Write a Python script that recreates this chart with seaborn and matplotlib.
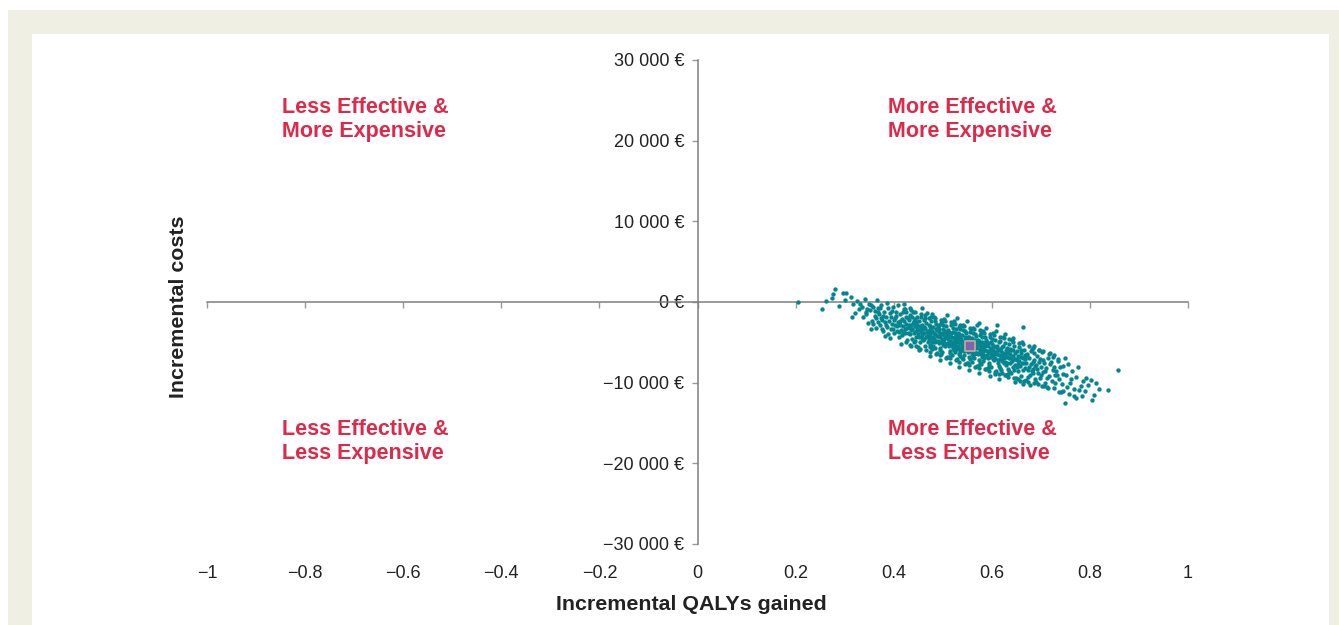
import matplotlib
matplotlib.use("Agg")
import matplotlib.pyplot as plt
from matplotlib.patches import Rectangle
import seaborn as sns
import pandas as pd

# ---------------- data ----------------
# probabilistic sensitivity analysis draws: (incremental QALYs, incremental cost in EUR)
psa_draws = [
    (0.204, -50), (0.253, -900), (0.262, 150), (0.281, 1650), (0.276, 1000), (0.296, 1150),
    (0.289, -450), (0.300, 200), (0.302, 1100), (0.275, 500),
    (0.312, 600), (0.318, -300), (0.322, -1400), (0.326, 100), (0.329, -900), (0.315, -1800),
    (0.335, -600), (0.338, -1900), (0.341, 400), (0.344, -1200), (0.347, -2600), (0.349, -300), (0.343, -1500),
    (0.352, -1000), (0.355, -2300), (0.358, -600), (0.361, -1700), (0.364, -3200), (0.366, 200),
    (0.368, -1300), (0.357, -2700), (0.363, -2000), (0.369, -800),
    (0.371, -1500), (0.373, -2900), (0.375, -400), (0.377, -2200), (0.379, -3600), (0.381, -1200),
    (0.383, -2500), (0.385, -1800), (0.387, -3100), (0.389, -700), (0.374, -2000), (0.382, -4200), (0.386, -100),
    (0.391, -2300), (0.393, -1400), (0.395, -3300), (0.397, -2700), (0.399, -600), (0.401, -3900),
    (0.403, -2000), (0.405, -1700), (0.407, -3000), (0.409, -2500), (0.392, -4500), (0.396, -1100),
    (0.402, -2900), (0.406, -3600), (0.408, -400), (0.400, -2200),
    (0.411, -2600), (0.412, -1500), (0.414, -3500), (0.416, -2100), (0.417, -4100), (0.419, -3000),
    (0.421, -900), (0.422, -2400), (0.424, -3800), (0.425, -1800), (0.427, -3200), (0.428, -4700),
    (0.413, -2900), (0.418, -1200), (0.423, -3400), (0.426, -2700), (0.429, -2000), (0.415, -5200),
    (0.420, -300), (0.410, -3700),
    (0.431, -3100), (0.432, -2200), (0.433, -4000), (0.434, -1600), (0.435, -3500), (0.436, -2800),
    (0.437, -4600), (0.438, -3300), (0.439, -1200), (0.440, -2600), (0.441, -3900), (0.442, -5000),
    (0.443, -2100), (0.444, -3000), (0.445, -4300), (0.446, -3600), (0.447, -1900), (0.448, -2900),
    (0.449, -5600), (0.430, -3800), (0.434, -700), (0.437, -3400), (0.441, -2400), (0.444, -4800),
    (0.447, -3200), (0.449, -4000),
    (0.450, -3500), (0.451, -2400), (0.452, -4300), (0.453, -3000), (0.454, -5000), (0.455, -3700),
    (0.456, -1800), (0.457, -4100), (0.458, -2800), (0.459, -3400), (0.460, -4700), (0.461, -2200),
    (0.462, -3900), (0.463, -5500), (0.464, -3200), (0.465, -4400), (0.466, -2600), (0.467, -3600),
    (0.468, -1400), (0.469, -4900), (0.452, -6000), (0.455, -3300), (0.458, -4500), (0.461, -3100),
    (0.464, -2000), (0.467, -4200), (0.469, -3700), (0.457, -800),
    (0.470, -3900), (0.471, -2800), (0.472, -4700), (0.473, -3300), (0.474, -5300), (0.475, -4100),
    (0.476, -2400), (0.477, -4500), (0.478, -3600), (0.479, -5800), (0.480, -3100), (0.481, -4300),
    (0.482, -1900), (0.483, -3800), (0.484, -5000), (0.485, -4000), (0.486, -2700), (0.487, -4800),
    (0.488, -3500), (0.489, -6300), (0.471, -4400), (0.474, -3000), (0.477, -3700), (0.480, -5400),
    (0.483, -4600), (0.486, -3300), (0.488, -4200), (0.475, -6700), (0.479, -1500), (0.484, -2300),
    (0.473, -5600),
    (0.490, -4200), (0.491, -3100), (0.492, -5100), (0.493, -3700), (0.494, -5700), (0.495, -4400),
    (0.496, -2600), (0.497, -4900), (0.498, -3900), (0.499, -6200), (0.500, -3400), (0.501, -4700),
    (0.502, -2100), (0.503, -4100), (0.504, -5400), (0.505, -4500), (0.506, -3000), (0.507, -5200),
    (0.508, -3800), (0.509, -6800), (0.491, -4800), (0.493, -3400), (0.495, -5900), (0.497, -4000),
    (0.499, -4600), (0.501, -2900), (0.503, -5000), (0.505, -3600), (0.507, -4300), (0.509, -1600),
    (0.494, -7200), (0.500, -5300), (0.506, -4000), (0.498, -2300),
    (0.510, -4600), (0.511, -3500), (0.512, -5400), (0.513, -4000), (0.514, -6100), (0.515, -4800),
    (0.516, -2900), (0.517, -5300), (0.518, -4300), (0.519, -6600), (0.520, -3700), (0.521, -5000),
    (0.522, -2400), (0.523, -4500), (0.524, -5700), (0.525, -4900), (0.526, -3300), (0.527, -5500),
    (0.528, -4100), (0.529, -7100), (0.511, -5100), (0.513, -3700), (0.515, -6300), (0.517, -4400),
    (0.519, -5000), (0.521, -3200), (0.523, -5300), (0.525, -3900), (0.527, -4700), (0.529, -2000),
    (0.514, -7600), (0.520, -5700), (0.526, -4300), (0.518, -2700), (0.524, -6200), (0.512, -4200),
    (0.530, -5000), (0.531, -3900), (0.532, -5800), (0.533, -4400), (0.534, -6400), (0.535, -5100),
    (0.536, -3300), (0.537, -5700), (0.538, -4600), (0.539, -7000), (0.540, -4100), (0.541, -5400),
    (0.542, -2800), (0.543, -4900), (0.544, -6100), (0.545, -5200), (0.546, -3600), (0.547, -5900),
    (0.548, -4500), (0.549, -7500), (0.531, -5500), (0.533, -4000), (0.535, -6700), (0.537, -4800),
    (0.539, -5300), (0.541, -3500), (0.543, -5700), (0.545, -4300), (0.547, -5100), (0.549, -2400),
    (0.534, -8000), (0.540, -6000), (0.546, -4700), (0.538, -3000), (0.544, -6600), (0.532, -4600),
    (0.550, -5400), (0.551, -4300), (0.552, -6200), (0.553, -4800), (0.554, -6800), (0.555, -5500),
    (0.556, -3700), (0.557, -6100), (0.558, -5000), (0.559, -7400), (0.560, -4500), (0.561, -5800),
    (0.562, -3200), (0.563, -5300), (0.564, -6500), (0.565, -5600), (0.566, -4000), (0.567, -6300),
    (0.568, -4900), (0.569, -7900), (0.551, -5900), (0.553, -4400), (0.555, -7100), (0.557, -5200),
    (0.559, -5700), (0.561, -3900), (0.563, -6100), (0.565, -4700), (0.567, -5500), (0.569, -2800),
    (0.554, -8400), (0.560, -6400), (0.566, -5100), (0.558, -3400), (0.564, -7000), (0.552, -5000),
    (0.570, -5700), (0.571, -4700), (0.572, -6500), (0.573, -5200), (0.574, -7200), (0.575, -5900),
    (0.576, -4100), (0.577, -6400), (0.578, -5400), (0.579, -7700), (0.580, -4900), (0.581, -6200),
    (0.582, -3600), (0.583, -5600), (0.584, -6900), (0.585, -6000), (0.586, -4400), (0.587, -6700),
    (0.588, -5300), (0.589, -8300), (0.571, -6300), (0.573, -4800), (0.575, -7500), (0.577, -5600),
    (0.579, -6100), (0.581, -4300), (0.583, -6500), (0.585, -5100), (0.587, -5900), (0.589, -3200),
    (0.574, -8800), (0.580, -6800), (0.586, -5500), (0.578, -3800), (0.573, -2600),
    (0.590, -6100), (0.591, -5000), (0.592, -6900), (0.593, -5500), (0.594, -7500), (0.595, -6200),
    (0.596, -4400), (0.597, -6800), (0.598, -5700), (0.599, -8100), (0.600, -5200), (0.601, -6500),
    (0.602, -3900), (0.603, -6000), (0.604, -7200), (0.605, -6300), (0.606, -4700), (0.607, -7000),
    (0.608, -5600), (0.609, -8600), (0.591, -6600), (0.593, -5100), (0.595, -7800), (0.597, -5900),
    (0.599, -6400), (0.601, -4600), (0.603, -6800), (0.605, -5400), (0.607, -6200), (0.609, -3600),
    (0.596, -9200), (0.602, -7100),
    (0.610, -6400), (0.611, -5400), (0.612, -7200), (0.613, -5900), (0.614, -7900), (0.615, -6600),
    (0.616, -4800), (0.617, -7100), (0.618, -6100), (0.619, -8400), (0.620, -5600), (0.621, -6900),
    (0.622, -4300), (0.623, -6300), (0.624, -7600), (0.625, -6700), (0.626, -5100), (0.627, -7400),
    (0.628, -6000), (0.629, -9000), (0.612, -6000), (0.614, -5000), (0.616, -8200), (0.618, -6600),
    (0.620, -7300), (0.622, -5500), (0.624, -6900), (0.626, -4000), (0.628, -7800), (0.615, -9500),
    (0.610, -2900),
    (0.630, -6800), (0.631, -5700), (0.632, -7600), (0.633, -6300), (0.634, -8300), (0.635, -7000),
    (0.636, -5200), (0.637, -7500), (0.638, -6400), (0.639, -8800), (0.640, -6000), (0.641, -7300),
    (0.642, -4700), (0.643, -6700), (0.644, -8000), (0.645, -7100), (0.646, -5500), (0.647, -7800),
    (0.648, -6300), (0.649, -9400), (0.632, -6100), (0.635, -8600), (0.638, -5800), (0.641, -7000),
    (0.644, -4500), (0.647, -9900),
    (0.650, -7100), (0.651, -6100), (0.652, -8000), (0.653, -6700), (0.654, -8600), (0.655, -7300),
    (0.656, -5600), (0.657, -7900), (0.658, -6800), (0.659, -9200), (0.660, -6300), (0.661, -7600),
    (0.662, -5000), (0.663, -7000), (0.664, -8400), (0.665, -7500), (0.666, -5900), (0.667, -8200),
    (0.668, -6600), (0.669, -9700), (0.653, -7700), (0.659, -6000), (0.664, -10200), (0.663, -3100),
    (0.670, -7500), (0.672, -6400), (0.674, -8400), (0.676, -7000), (0.678, -9000), (0.680, -7700),
    (0.682, -5800), (0.684, -8300), (0.686, -7200), (0.688, -9600), (0.671, -6700), (0.675, -8000),
    (0.679, -6100), (0.683, -8800), (0.687, -5400), (0.689, -7900), (0.677, -10300), (0.685, -7400),
    (0.690, -7800), (0.692, -6700), (0.694, -8800), (0.696, -7400), (0.698, -9400), (0.700, -8000),
    (0.702, -6200), (0.704, -8700), (0.706, -7600), (0.708, -10000), (0.693, -8300), (0.697, -6000),
    (0.701, -9100), (0.705, -7200), (0.709, -8500),
    (0.711, -8200), (0.714, -7000), (0.716, -9200), (0.719, -7700), (0.722, -9800), (0.724, -8400),
    (0.727, -6600), (0.729, -9000), (0.713, -10500), (0.726, -8000), (0.718, -6300),
    (0.731, -8600), (0.734, -7300), (0.737, -9600), (0.740, -8100), (0.743, -10200), (0.746, -8900),
    (0.749, -7000), (0.736, -11100),
    (0.752, -9000), (0.756, -7700), (0.760, -10000), (0.764, -8600), (0.768, -10800), (0.758, -11400),
    (0.750, -12500), (0.772, -11900),
    (0.772, -9300), (0.776, -8100), (0.781, -10400), (0.786, -9800), (0.790, -11000),
    (0.796, -10300), (0.802, -9700), (0.808, -11500), (0.818, -10800), (0.805, -12100),
    (0.836, -10900), (0.858, -8400),
    # further draws read from the fringes and the core of the cloud
    (0.332, -200), (0.345, -900), (0.353, -400), (0.362, -1100), (0.372, -800), (0.378, -1700),
    (0.384, -2900), (0.394, -1900), (0.398, -3400), (0.404, -1200), (0.413, -2300), (0.418, -3700),
    (0.426, -1300), (0.432, -2900), (0.438, -1800), (0.446, -2500), (0.354, -3300), (0.367, -2500),
    (0.376, -3300), (0.388, -4000), (0.410, -4400), (0.436, -5400),
    (0.462, -4600), (0.472, -2000), (0.478, -4900), (0.485, -5700), (0.492, -2800), (0.496, -6400),
    (0.504, -3800), (0.512, -6800), (0.516, -3900), (0.522, -6000), (0.528, -5800), (0.533, -3100),
    (0.536, -6200), (0.542, -7100), (0.548, -3900), (0.552, -7600), (0.556, -4600), (0.562, -6800),
    (0.568, -4200), (0.572, -7900), (0.576, -5300), (0.582, -7300), (0.588, -4700), (0.592, -8200),
    (0.598, -5000), (0.604, -6500), (0.606, -8900), (0.613, -7600), (0.617, -5800), (0.621, -8800),
    (0.627, -6400), (0.633, -8900), (0.637, -6900), (0.643, -5900), (0.646, -8400), (0.652, -7200),
    (0.657, -9800), (0.661, -6800), (0.667, -7100), (0.673, -9300), (0.681, -8600), (0.686, -6300),
    (0.691, -9900), (0.699, -7100), (0.703, -10400), (0.712, -9400), (0.721, -7400), (0.728, -10100),
    (0.733, -9100), (0.741, -11200), (0.745, -7900), (0.753, -10500), (0.762, -9500), (0.767, -11600),
    (0.778, -10900), (0.784, -11700), (0.792, -9400), (0.812, -10100),
    # upper and lower edges of the band
    (0.424, -900), (0.426, -5000), (0.436, -1000), (0.434, -5300), (0.444, -1300), (0.446, -5500),
    (0.456, -1500), (0.454, -5800), (0.464, -1600), (0.466, -6000), (0.476, -1800), (0.474, -6200),
    (0.484, -2000), (0.486, -6400), (0.496, -2200), (0.494, -6600), (0.504, -2300), (0.506, -6900),
    (0.516, -2500), (0.514, -7000), (0.524, -2700), (0.526, -7200), (0.536, -2900), (0.534, -7400),
    (0.544, -3000), (0.546, -7700), (0.556, -3200), (0.554, -7800), (0.564, -3400), (0.566, -8000),
    (0.576, -3500), (0.574, -8200), (0.584, -3800), (0.586, -8300), (0.596, -4000), (0.594, -8600),
    (0.604, -4100), (0.606, -8700), (0.616, -4300), (0.614, -8900), (0.624, -4500), (0.626, -9100),
    (0.636, -4600), (0.634, -9300), (0.644, -4900), (0.646, -9400), (0.656, -5100), (0.654, -9500),
    (0.664, -5200), (0.666, -9800), (0.676, -5500), (0.674, -9900), (0.684, -5700), (0.686, -10100),
    (0.696, -5900), (0.694, -10200), (0.704, -6100), (0.706, -10400), (0.716, -6400), (0.714, -10600),
    (0.724, -6800), (0.726, -10700), (0.735, -7100), (0.745, -11000),
]
inc_qalys = [p[0] for p in psa_draws]
inc_costs = [p[1] for p in psa_draws]

mean_qaly = [0.556]
mean_cost = [-5400]

x_ticks = [-1, -0.8, -0.6, -0.4, -0.2, 0, 0.2, 0.4, 0.6, 0.8, 1]
x_tick_labels = ["\u22121", "\u22120.8", "\u22120.6", "\u22120.4", "\u22120.2", "0",
                 "0.2", "0.4", "0.6", "0.8", "1"]
y_ticks = [-30000, -20000, -10000, 0, 10000, 20000, 30000]
y_tick_labels = ["\u221230 000 \u20ac", "\u221220 000 \u20ac", "\u221210 000 \u20ac", "0 \u20ac",
                 "10 000 \u20ac", "20 000 \u20ac", "30 000 \u20ac"]

quadrant_labels = ["Less Effective &\nMore Expensive", "More Effective &\nMore Expensive",
                   "Less Effective &\nLess Expensive", "More Effective &\nLess Expensive"]

# ---------------- styling ----------------
sns.set_style("white")
plt.rcParams["font.family"] = ["Liberation Sans", "DejaVu Sans"]

BEIGE = "#f0efe4"
TEAL = "#04858f"
RED = "#dc2a4b"
AXIS = "#7f7f7f"
TEXT = "#222222"

W, H = 1339, 625
fig = plt.figure(figsize=(W / 100, H / 100), dpi=100, facecolor="white")
fig.patches.append(Rectangle((8 / W, 0), 1 - 8 / W, 1 - 10 / H, transform=fig.transFigure,
                             facecolor=BEIGE, edgecolor="none", zorder=-3))
fig.patches.append(Rectangle((32 / W, 0), (1329 - 32) / W, 1 - 34 / H, transform=fig.transFigure,
                             facecolor="white", edgecolor="none", zorder=-2))

ax = fig.add_axes([207 / W, 81 / H, (1188 - 207) / W, (544 - 60) / H])
ax.set_facecolor("none")
ax.set_zorder(1)

df = pd.DataFrame({"qaly": inc_qalys, "cost": inc_costs})
sns.scatterplot(data=df, x="qaly", y="cost", ax=ax, color=TEAL, s=10, linewidth=0,
                marker="o", zorder=3, legend=False)
sns.scatterplot(x=mean_qaly, y=mean_cost, ax=ax, marker="s", s=60, color="#7a67a6",
                edgecolor="#c9a19b", linewidth=1.3, zorder=4, legend=False)

ax.set_xlim(-1, 1)
ax.set_ylim(-30000, 30000)
ax.set_xlabel("")
ax.set_ylabel("")

for side in ("top", "right"):
    ax.spines[side].set_visible(False)
ax.spines["left"].set_position(("data", 0))
ax.spines["bottom"].set_position(("data", 0))
for side in ("left", "bottom"):
    ax.spines[side].set_color(AXIS)
    ax.spines[side].set_linewidth(1.1)

ax.set_xticks(x_ticks)
ax.tick_params(axis="x", bottom=True, direction="out", length=4, width=1.0, color="#9a9a9a",
               labelbottom=False)
ax.set_yticks(y_ticks)
ax.set_yticklabels(y_tick_labels)
ax.tick_params(axis="y", left=True, direction="out", length=4.5, width=1.0, color="#9a9a9a",
               pad=5, labelsize=13, labelcolor=TEXT)

sec = ax.secondary_xaxis(0.0)
sec.set_xticks(x_ticks)
sec.set_xticklabels(x_tick_labels)
sec.spines["bottom"].set_visible(False)
sec.tick_params(length=0, pad=15, labelsize=13, labelcolor=TEXT)

# quadrant annotations
ax.text(-0.848, 22600, quadrant_labels[0], color=RED, fontsize=15.5, fontweight="bold",
        ha="left", va="center", linespacing=1.2)
ax.text(0.389, 22600, quadrant_labels[1], color=RED, fontsize=15.5, fontweight="bold",
        ha="left", va="center", linespacing=1.2)
ax.text(-0.848, -17330, quadrant_labels[2], color=RED, fontsize=15.5, fontweight="bold",
        ha="left", va="center", linespacing=1.2)
ax.text(0.389, -17330, quadrant_labels[3], color=RED, fontsize=15.5, fontweight="bold",
        ha="left", va="center", linespacing=1.2)

fig.text(691 / W, 1 - 604 / H, "Incremental QALYs gained", ha="center", va="center",
         fontsize=15.4, fontweight="bold", color=TEXT)
fig.text(178 / W, 1 - 307 / H, "Incremental costs", ha="center", va="center", rotation=90,
         fontsize=15.4, fontweight="bold", color=TEXT)

fig.savefig("out.png", dpi=100, facecolor=fig.get_facecolor())
